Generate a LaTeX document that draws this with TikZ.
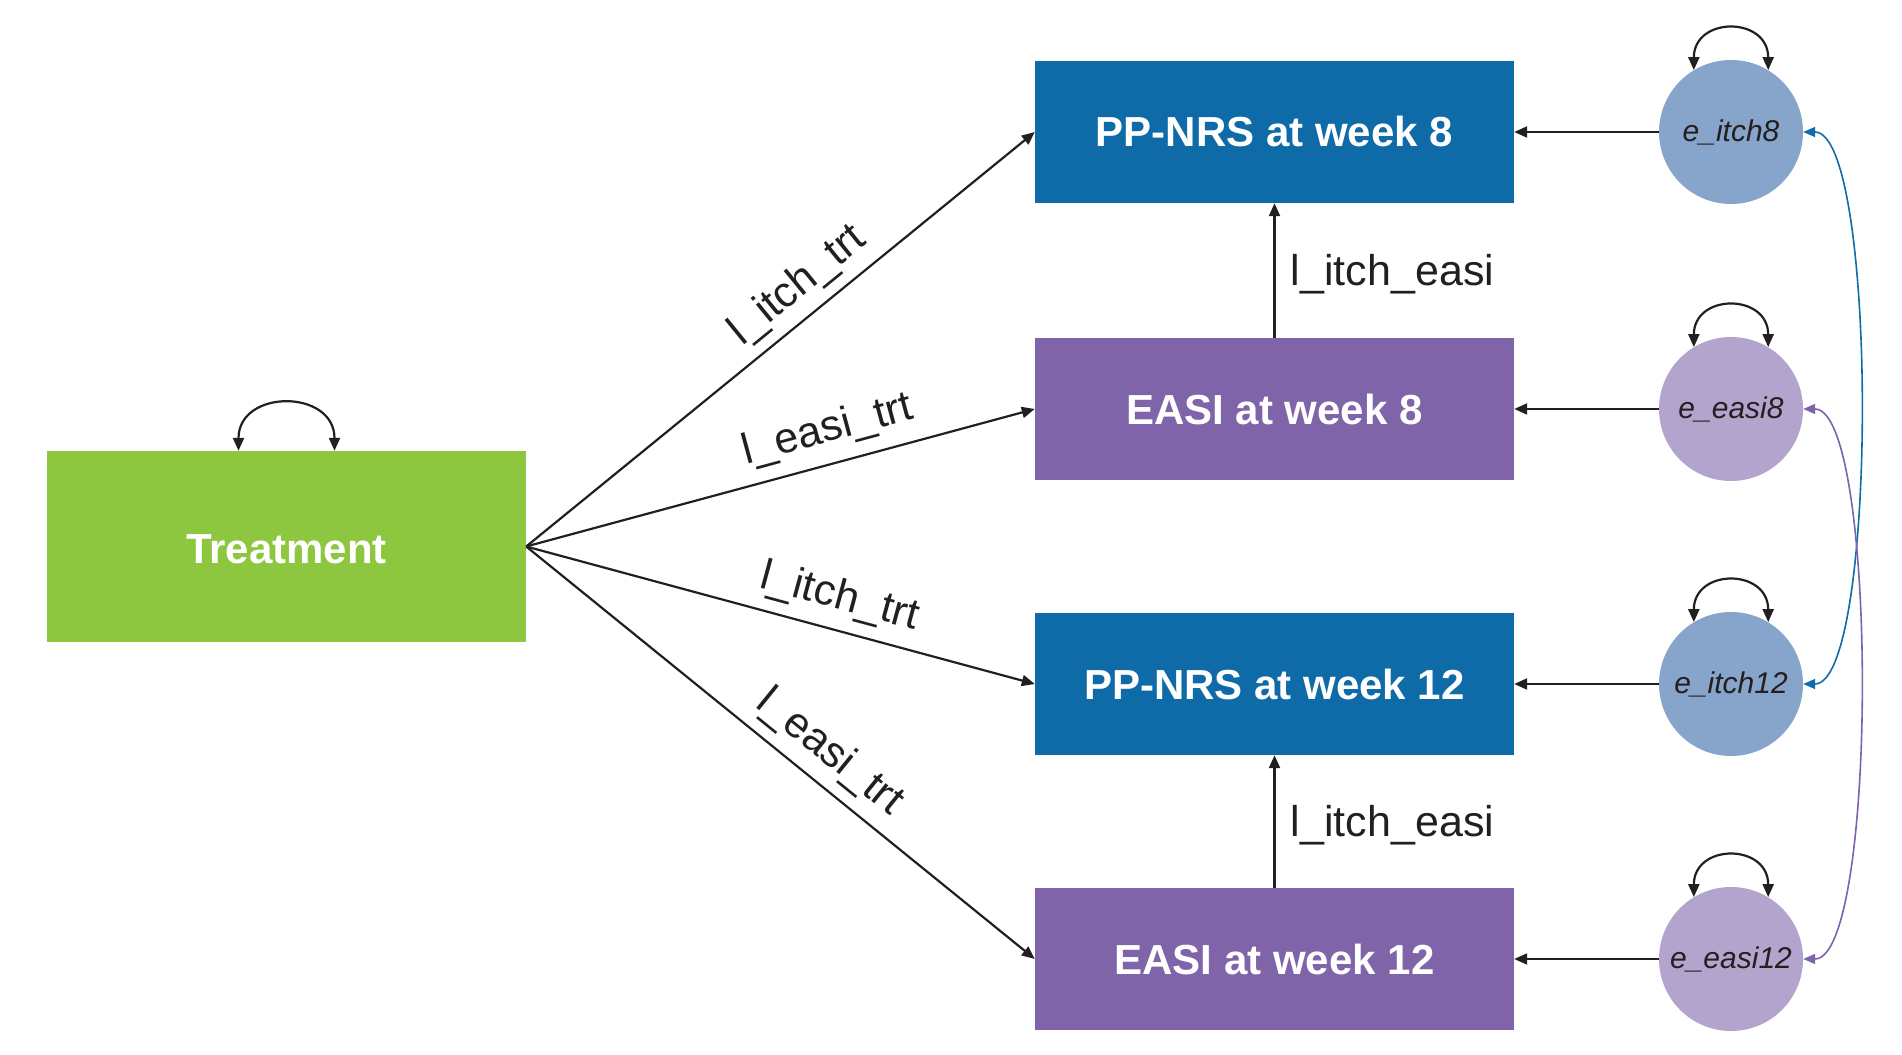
\documentclass[tikz,border=0pt]{standalone}
\usepackage{fontspec}
\setmainfont{Liberation Sans}
\usetikzlibrary{arrows.meta,calc}
\definecolor{boxblue}{HTML}{0F6BA8}
\definecolor{boxpurple}{HTML}{8064AA}
\definecolor{boxgreen}{HTML}{8DC63F}
\definecolor{cblue}{HTML}{87A4CA}
\definecolor{cpurple}{HTML}{B3A4CD}
\definecolor{lc}{HTML}{231F20}
\definecolor{curvepurple}{HTML}{7E62AB}
\tikzset{
  vbox/.style={rectangle, inner sep=0pt, minimum width=479pt, minimum height=142pt,
    text=white, font=\bfseries\fontsize{42}{50}\selectfont},
  errc/.style={circle, inner sep=0pt, minimum size=144pt, text=lc,
    font=\itshape\fontsize{30}{36}\selectfont},
  arr/.style={draw=lc, line width=2.2pt, -{Triangle[length=13pt,width=11pt]}},
  dbl/.style={draw=lc, line width=2.2pt, {Triangle[length=13pt,width=11pt]}-{Triangle[length=13pt,width=11pt]}},
  cov/.style={line width=1.6pt, {Triangle[length=12pt,width=10pt]}-{Triangle[length=12pt,width=10pt]}},
  lbl/.style={text=lc, font=\fontsize{43}{50}\selectfont},
}
\begin{document}
\begin{tikzpicture}[x=1pt,y=1pt]
\useasboundingbox (0,0) rectangle (1902,1054);
% Treatment
\node[vbox, fill=boxgreen, minimum height=191pt, text height=35pt] (T) at (286.5,507.5) {Treatment};
% outcome boxes
\node[vbox, fill=boxblue]   (P8)  at (1274.5,922) {PP-NRS at week 8};
\node[vbox, fill=boxpurple] (E8)  at (1274.5,645) {EASI at week 8};
\node[vbox, fill=boxblue]   (P12) at (1274.5,370) {PP-NRS at week 12};
\node[vbox, fill=boxpurple] (E12) at (1274.5,95)  {EASI at week 12};
% error circles
\node[errc, fill=cblue]   (c1) at (1731,922) {e\_itch8};
\node[errc, fill=cpurple] (c2) at (1731,645) {e\_easi8};
\node[errc, fill=cblue]   (c3) at (1731,370) {e\_itch12};
\node[errc, fill=cpurple] (c4) at (1731,95)  {e\_easi12};
% treatment paths
\draw[arr] (T.east) -- node[lbl, sloped, above=6pt, pos=0.572] {l\_itch\_trt} (P8.west);
\draw[arr] (T.east) -- node[lbl, sloped, above=9pt, pos=0.61] {l\_easi\_trt} (E8.west);
\draw[arr] (T.east) -- node[lbl, sloped, above=8pt, pos=0.6] {l\_itch\_trt} (P12.west);
\draw[arr] (T.east) -- node[lbl, sloped, above=7pt, pos=0.558] {l\_easi\_trt} (E12.west);
% easi -> itch
\draw[arr] (E8) -- node[lbl, right, xshift=12pt, yshift=-4pt] {l\_itch\_easi} (P8);
\draw[arr] (E12) -- node[lbl, right, xshift=12pt, yshift=-4pt] {l\_itch\_easi} (P12);
% errors -> boxes
\draw[arr] (c1) -- (P8);
\draw[arr] (c2) -- (E8);
\draw[arr] (c3) -- (P12);
\draw[arr] (c4) -- (E12);
% variances
\coordinate (tl) at ($(T.north)+(-48,0)$);
\coordinate (tr) at ($(T.north)+(48,0)$);
\draw[dbl] (tl) .. controls +(0,62) and +(0,62) .. (tr);
\foreach \c in {c1,c2,c3,c4}{
  \draw[dbl] (\c.121) .. controls +(0,54) and +(0,54) .. (\c.59);
}
% covariances
\draw[cov, draw=boxblue] (c1.east) .. controls +(75,0) and +(75,0) .. (c3.east);
\draw[cov, draw=curvepurple] (c2.east) .. controls +(75,0) and +(75,0) .. (c4.east);
\end{tikzpicture}
\end{document}
